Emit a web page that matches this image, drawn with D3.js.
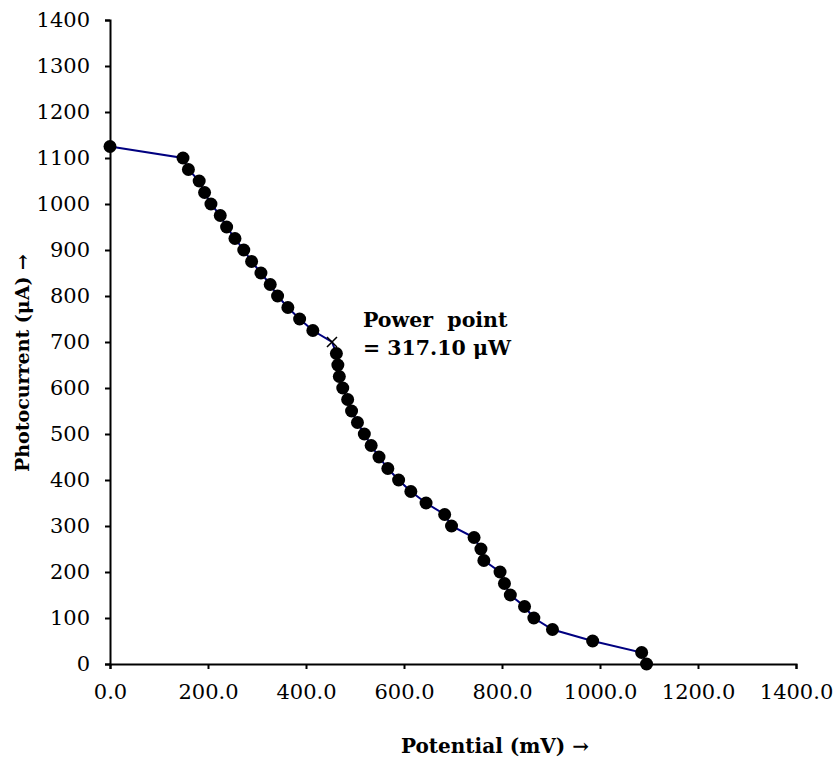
<!DOCTYPE html>
<html>
<head>
<meta charset="utf-8">
<script src="https://cdn.jsdelivr.net/npm/d3@7"></script>
<style>
  body { margin: 0; background: #fff; }
  svg { display: block; }
  .tick text { font-family: "DejaVu Serif", serif; font-size: 21px; fill: #000; }
  .title { font-family: "DejaVu Serif", serif; font-weight: bold; fill: #000; }
</style>
</head>
<body>
<svg></svg>
<script>
// potential (mV) and photocurrent (uA)
const potential = [0, 149, 160, 182, 193, 206, 225, 238, 255, 273, 289, 308, 327, 342, 363, 387, 414,
  453, 462, 465, 468, 475, 485, 493, 505, 519, 533, 549, 567, 589, 614, 645,
  683, 697, 743, 757, 763, 796, 805, 817, 846, 865, 903, 985, 1085, 1095]
const current = [1125, 1100, 1075, 1050, 1025, 1000, 975, 950, 925, 900, 875, 850, 825, 800, 775, 750, 725,
  700, 675, 650, 625, 600, 575, 550, 525, 500, 475, 450, 425, 400, 375, 350,
  325, 300, 275, 250, 225, 200, 175, 150, 125, 100, 75, 50, 25, 0]
const powerIndex = 17   // the point marked with a cross
const powerLabel = ['Power\u00a0\u00a0point', '= 317.10 \u03bcW']

const xTicks = [0, 200, 400, 600, 800, 1000, 1200, 1400]
const yTicks = [0, 100, 200, 300, 400, 500, 600, 700, 800, 900, 1000, 1100, 1200, 1300, 1400]

const width = 838
const height = 759

const svg = d3.select('svg')
    .attr('width', width)
    .attr('height', height)

const x = d3.scaleLinear().domain([0, 1400]).range([110, 796])
const y = d3.scaleLinear().domain([0, 1400]).range([664, 20])

const data = potential.map((v, i) => ({ v: v, c: current[i], i: i }))

// axes
const xAxis = svg.append('g')
    .attr('transform', `translate(0, ${y(0)})`)
    .call(d3.axisBottom(x).tickValues(xTicks).tickFormat(d3.format('.1f')).tickSizeOuter(0).tickSize(5))
xAxis.selectAll('text').attr('y', 35).attr('dy', null)

const yAxis = svg.append('g')
    .attr('transform', `translate(${x(0)}, 0)`)
    .call(d3.axisLeft(y).tickValues(yTicks).tickFormat(d3.format('d')).tickSizeOuter(0).tickSize(5))
yAxis.selectAll('text').attr('x', -20)

svg.selectAll('.domain, .tick line').attr('stroke', '#000').attr('stroke-width', 2)

// curve
const line = d3.line().x(d => x(d.v)).y(d => y(d.c))
svg.append('path')
    .datum(data)
    .attr('d', line)
    .attr('fill', 'none')
    .attr('stroke', '#000080')
    .attr('stroke-width', 2)

svg.selectAll('.dot')
    .data(data.filter(d => d.i !== powerIndex))
    .enter()
    .append('circle')
    .attr('class', 'dot')
    .attr('cx', d => x(d.v))
    .attr('cy', d => y(d.c))
    .attr('r', 6.5)
    .attr('fill', '#000')

const p = data[powerIndex]
svg.append('path')
    .attr('d', `M${x(p.v) - 5},${y(p.c) - 5}L${x(p.v) + 5},${y(p.c) + 5}M${x(p.v) - 5},${y(p.c) + 5}L${x(p.v) + 5},${y(p.c) - 5}`)
    .attr('stroke', '#000')
    .attr('stroke-width', 1.5)

// annotation
svg.append('text')
    .attr('class', 'title')
    .attr('x', 363)
    .attr('y', 327)
    .style('font-size', '20.5px')
    .selectAll('tspan')
    .data(powerLabel)
    .enter()
    .append('tspan')
    .attr('x', 363)
    .attr('dy', (d, i) => i ? 28 : 0)
    .text(d => d)

// axis titles
svg.append('text')
    .attr('class', 'title')
    .attr('x', 495)
    .attr('y', 753)
    .attr('text-anchor', 'middle')
    .style('font-size', '20px')
    .text('Potential (mV) \u2192')

svg.append('text')
    .attr('class', 'title')
    .attr('transform', 'translate(29, 363) rotate(-90)')
    .attr('text-anchor', 'middle')
    .style('font-size', '19px')
    .text('Photocurrent (\u03bcA) \u2192')
</script>
</body>
</html>
